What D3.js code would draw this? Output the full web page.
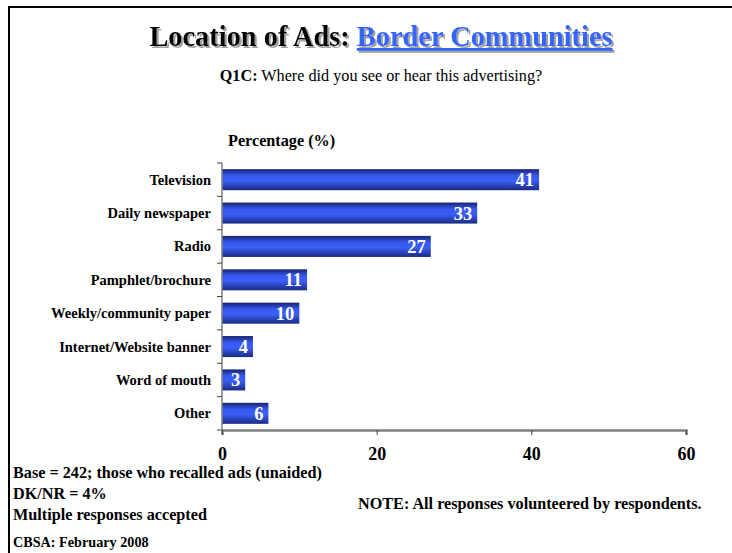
<!DOCTYPE html>
<html>
<head>
<meta charset="utf-8">
<script src="https://cdn.jsdelivr.net/npm/d3@7"></script>
<style>
  html, body { margin: 0; padding: 0; background: #fff; }
  svg { display: block; font-family: "Liberation Serif", "Times New Roman", serif; }
</style>
</head>
<body>
<svg id="chart" width="732" height="553"></svg>
<script>
// Survey data: where respondents saw or heard the advertising
const categories = ["Television", "Daily newspaper", "Radio", "Pamphlet/brochure",
  "Weekly/community paper", "Internet/Website banner", "Word of mouth", "Other"];
const percentages = [41, 33, 27, 11, 10, 4, 3, 6];
const xTicks = [0, 20, 40, 60];

const svg = d3.select("#chart");

// Slide frame (top and left edges)
svg.append("path")
  .attr("d", "M9,553 V7 H732")
  .attr("fill", "none")
  .attr("stroke", "#000")
  .attr("stroke-width", 2);

// Bar gradient: dark edges with a bright blue core
const defs = svg.append("defs");
const grad = defs.append("linearGradient")
  .attr("id", "barGrad").attr("x1", 0).attr("y1", 0).attr("x2", 0).attr("y2", 1);
[[0, "#16236e"], [0.3, "#3558ee"], [0.55, "#3a5ff6"], [1, "#1a2a84"]]
  .forEach(([o, c]) => grad.append("stop").attr("offset", o).attr("stop-color", c));

const shadow = defs.append("filter").attr("id", "txtShadow")
  .attr("x", "-5%").attr("y", "-20%").attr("width", "110%").attr("height", "140%");
shadow.append("feDropShadow").attr("dx", 2).attr("dy", 2)
  .attr("stdDeviation", 0.6).attr("flood-color", "#999").attr("flood-opacity", 0.9);

// Title
const title = svg.append("text")
  .attr("x", 381).attr("y", 46)
  .attr("text-anchor", "middle")
  .attr("font-size", 28.4).attr("font-weight", "bold")
  .attr("filter", "url(#txtShadow)");
title.append("tspan").attr("fill", "#000").text("Location of Ads: ");
title.append("tspan").attr("fill", "#3366ff")
  .attr("text-decoration", "underline").text("Border Communities");

// Question text
const q = svg.append("text")
  .attr("x", 381).attr("y", 81)
  .attr("text-anchor", "middle").attr("font-size", 16.2);
q.append("tspan").attr("font-weight", "bold").text("Q1C:");
q.append("tspan").text(" Where did you see or hear this advertising?");

svg.append("text")
  .attr("x", 228).attr("y", 146)
  .attr("font-size", 16.2).attr("font-weight", "bold")
  .text("Percentage (%)");

// Scales
const x = d3.scaleLinear().domain([0, 60]).range([222, 686]);
const y = d3.scaleBand().domain(categories).range([163, 430]).paddingInner(0.37).paddingOuter(0.185);

// Bars
svg.append("g").selectAll("rect")
  .data(percentages)
  .join("rect")
  .attr("x", x(0))
  .attr("y", (d, i) => y(categories[i]))
  .attr("width", d => x(d) - x(0))
  .attr("height", y.bandwidth())
  .attr("fill", "url(#barGrad)");

// Value labels inside bar ends
svg.append("g").selectAll("text")
  .data(percentages)
  .join("text")
  .attr("x", d => x(d) - 5)
  .attr("y", (d, i) => y(categories[i]) + y.bandwidth() / 2 + 6.5)
  .attr("text-anchor", "end")
  .attr("fill", "#fff")
  .attr("font-size", 18.5).attr("font-weight", "bold")
  .text(d => d);

// Category labels
svg.append("g").selectAll("text")
  .data(categories)
  .join("text")
  .attr("x", 211)
  .attr("y", d => y(d) + y.bandwidth() / 2 + 5)
  .attr("text-anchor", "end")
  .attr("font-size", 14.5).attr("font-weight", "bold")
  .attr("fill", "#000")
  .text(d => d);

// Y axis line with ticks between categories
const yAxisG = svg.append("g");
yAxisG.append("line")
  .attr("x1", 222).attr("x2", 222).attr("y1", 163).attr("y2", 430)
  .attr("stroke", "#808080").attr("stroke-width", 1.5);
yAxisG.selectAll("line.tick")
  .data(d3.range(categories.length + 1))
  .join("line").attr("class", "tick")
  .attr("x1", 217).attr("x2", 222)
  .attr("y1", i => 163 + i * (430 - 163) / categories.length)
  .attr("y2", i => 163 + i * (430 - 163) / categories.length)
  .attr("stroke", "#404040").attr("stroke-width", 1);

// X axis
const xAxis = d3.axisBottom(x).tickValues(xTicks).tickSize(5).tickPadding(12);
const xg = svg.append("g").attr("transform", "translate(0,430)").call(xAxis);
xg.select(".domain").attr("stroke", "#808080").attr("stroke-width", 2.5);
xg.selectAll(".tick line").attr("stroke", "#404040");
xg.selectAll(".tick text")
  .attr("font-family", "Liberation Serif, serif")
  .attr("font-size", 18).attr("font-weight", "bold").attr("fill", "#000");

// Footnotes
const notes = [
  ["Base = 242; those who recalled ads (unaided)", 478, 16.2],
  ["DK/NR = 4%", 499, 16.2],
  ["Multiple responses accepted", 520, 16.2],
  ["CBSA: February 2008", 547, 14.2]
];
svg.append("g").selectAll("text")
  .data(notes)
  .join("text")
  .attr("x", 13).attr("y", d => d[1])
  .attr("font-size", d => d[2]).attr("font-weight", "bold")
  .text(d => d[0]);

svg.append("text")
  .attr("x", 358).attr("y", 509)
  .attr("font-size", 16.2).attr("font-weight", "bold")
  .text("NOTE: All responses volunteered by respondents.");
</script>
</body>
</html>
